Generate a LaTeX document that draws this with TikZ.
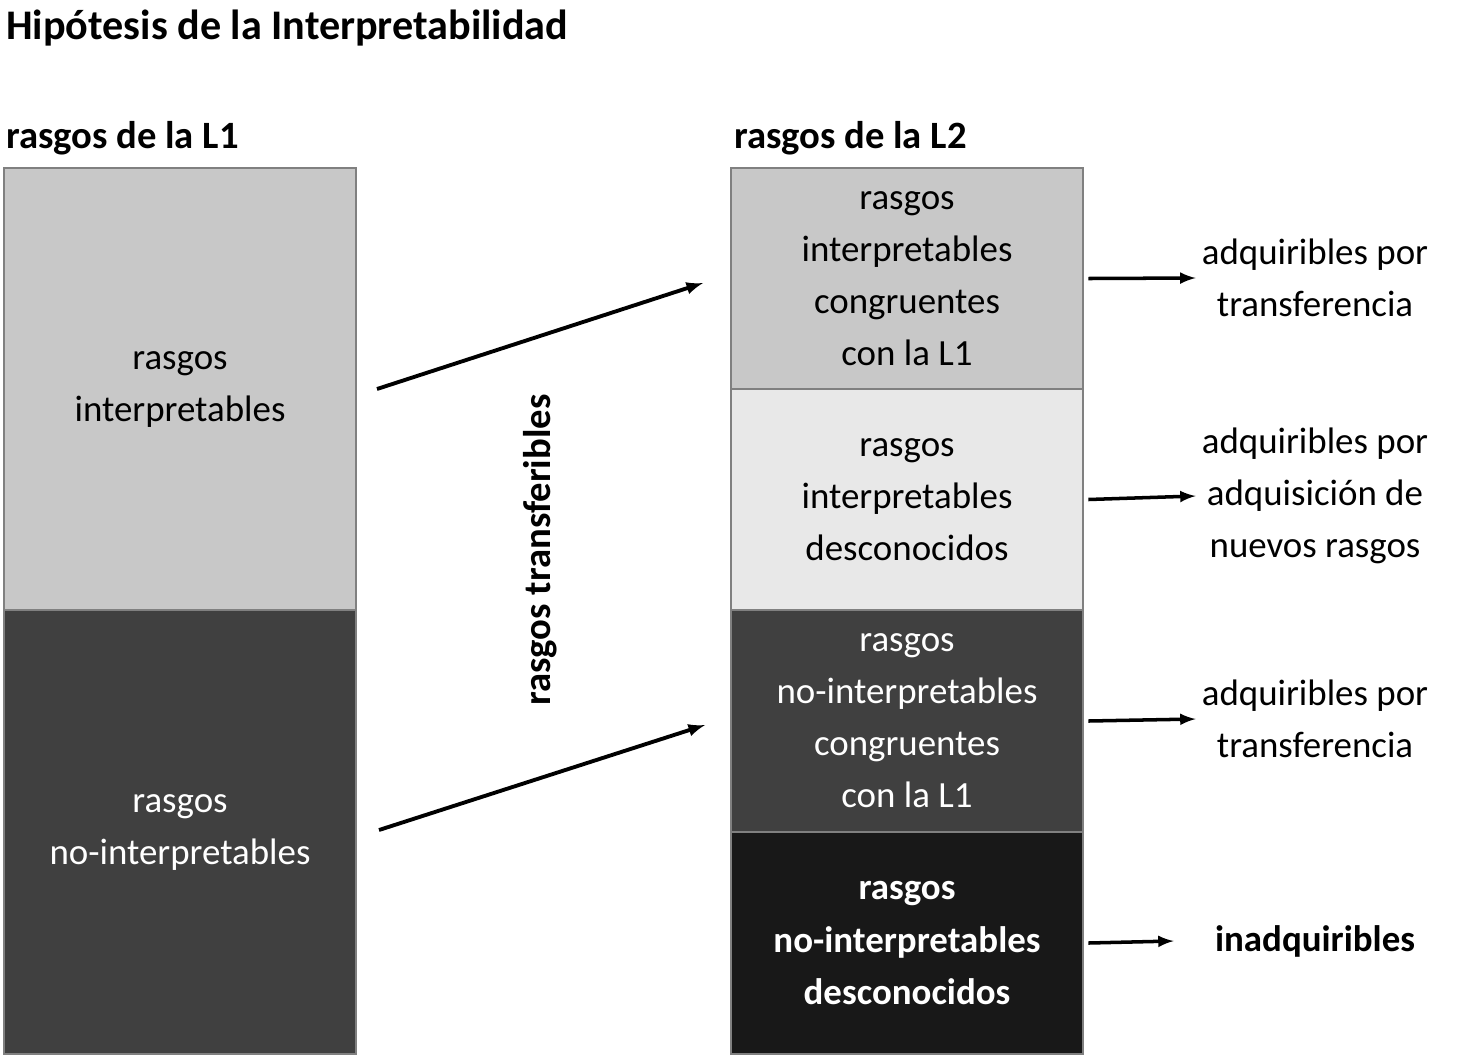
\documentclass[tikz,border=0pt]{standalone}
\usepackage{fontspec}
\setmainfont{Carlito}
\definecolor{lightbox}{HTML}{C8C8C8}
\definecolor{paperbox}{HTML}{E8E8E8}
\definecolor{darkbox}{HTML}{404040}
\definecolor{blackbox}{HTML}{181818}
\definecolor{edgegray}{HTML}{808080}
\tikzset{
    featbox/.style={draw=edgegray, line width=1.5pt, minimum width=7.04cm, inner sep=0pt,
        align=center, font=\fontsize{21}{29.6}\selectfont},
    outtext/.style={align=center, font=\fontsize{21}{29.6}\selectfont},
    bigarrow/.style={-latex, line width=2.2pt},
    smallarrow/.style={-latex, line width=2pt}
}
\begin{document}
\begin{tikzpicture}[x=0.02cm, y=-0.02cm]
        \useasboundingbox (0,0) rectangle (1459,1056);
        % Titles
        \node[anchor=west, font=\bfseries\fontsize{24}{28}\selectfont] at (0, 28)  (title) {Hipótesis de la Interpretabilidad};
        \node[anchor=west, font=\bfseries\fontsize{22}{26}\selectfont] at (0, 138)  (l1head) {rasgos de la L1};
        \node[anchor=west, font=\bfseries\fontsize{22}{26}\selectfont] at (728, 138)  (l2head) {rasgos de la L2};

        % L1 boxes
        \node[featbox, fill=lightbox, minimum height=8.84cm] at (180, 389)  (interp)  {rasgos\\interpretables};
        \node[featbox, fill=darkbox, text=white, minimum height=8.88cm] at (180, 832)  (nointerp)  {rasgos\\no-interpretables};

        % L2 boxes
        \node[featbox, fill=lightbox, minimum height=4.42cm] at (907, 278.5)  (icong)  {rasgos\\interpretables\\congruentes\\con la L1};
        \node[featbox, fill=paperbox, minimum height=4.42cm] at (907, 499.5)  (idesc)  {rasgos\\interpretables\\desconocidos};
        \node[featbox, fill=darkbox, text=white, minimum height=4.44cm] at (907, 721)  (ncong)  {rasgos\\no-interpretables\\congruentes\\con la L1};
        \node[featbox, fill=blackbox, text=white, minimum height=4.44cm, font=\bfseries\fontsize{21}{29.6}\selectfont] at (907, 943)  (ndesc)  {rasgos\\no-interpretables\\desconocidos};

        % Outcomes
        \node[outtext] at (1315, 278)  (out1)  {adquiribles por\\transferencia};
        \node[outtext] at (1315, 496)  (out2)  {adquiribles por\\adquisición de\\nuevos rasgos};
        \node[outtext] at (1315, 719)  (out3)  {adquiribles por\\transferencia};
        \node[outtext, font=\bfseries\fontsize{21}{29.6}\selectfont] at (1315, 941)  (out4)  {inadquiribles};

        \coordinate (a1s) at (377, 389);  \coordinate (a1e) at (703, 283);
        \coordinate (a2s) at (379, 830);  \coordinate (a2e) at (705, 725);
        \draw[bigarrow]  (a1s) -- (a1e);
        \draw[bigarrow]  (a2s) -- (a2e);
        \node[rotate=90, font=\bfseries\fontsize{22}{26}\selectfont] at (540, 550)  (transf)  {rasgos transferibles};

        \draw[smallarrow]  (icong.east) ++(4,0) -- (out1.west);
        \draw[smallarrow]  (idesc.east) ++(4,0) -- (out2.west);
        \draw[smallarrow]  (ncong.east) ++(4,0) -- (out3.west);
        \draw[smallarrow]  (ndesc.east) ++(4,0) -- ([xshift=-20]out4.west);
    \end{tikzpicture}
\end{document}
